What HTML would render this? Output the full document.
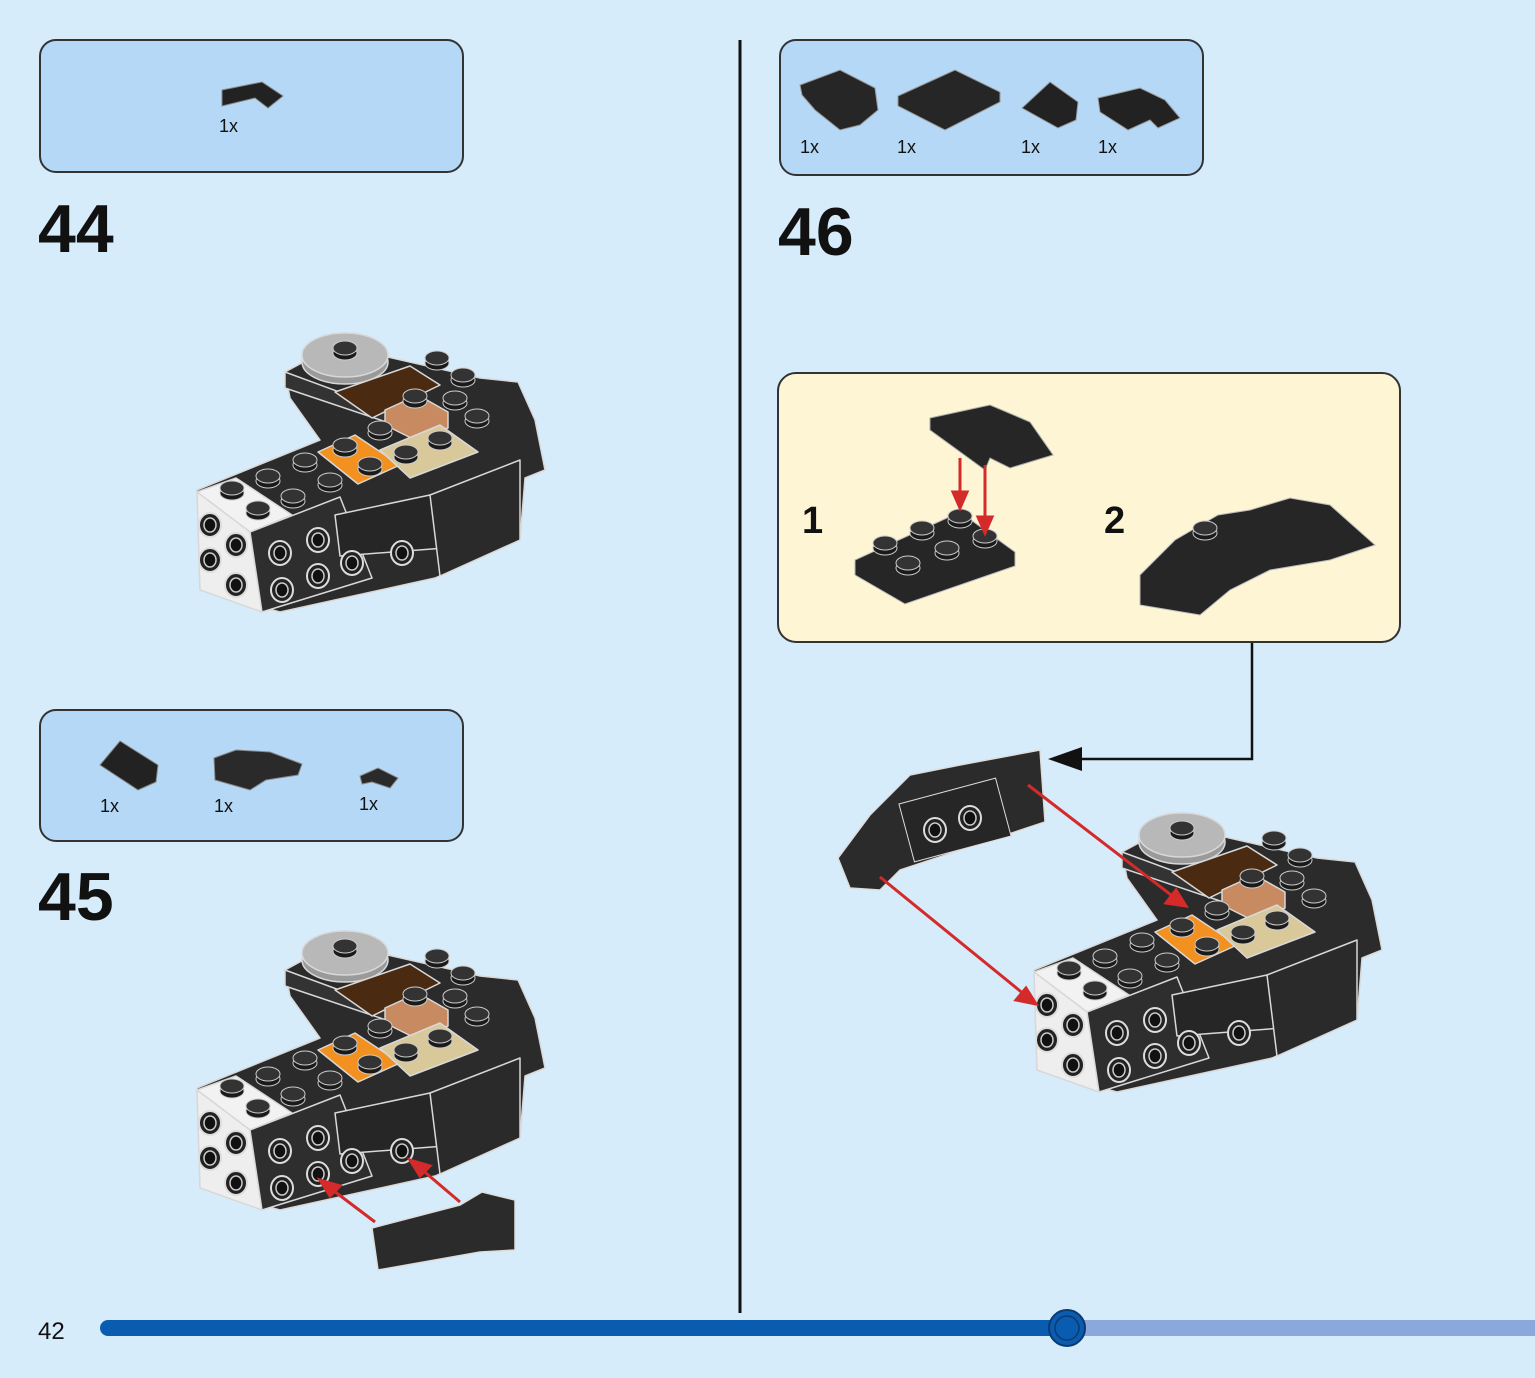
<!DOCTYPE html>
<html><head><meta charset="utf-8"><style>
html,body{margin:0;padding:0;background:#d6ecfb;}
svg{display:block}
text{font-family:"Liberation Sans",sans-serif;fill:#111}
</style></head><body>
<svg width="1535" height="1378" viewBox="0 0 1535 1378" xmlns="http://www.w3.org/2000/svg">
<defs>
<g id="stud"><ellipse cx="0" cy="3" rx="12" ry="7" fill="#1a1a1a" stroke="#ccc" stroke-width="1"/><ellipse cx="0" cy="-2" rx="12" ry="7" fill="#333" stroke="#ccc" stroke-width="1"/></g>
<g id="hole"><ellipse cx="0" cy="0" rx="11" ry="12" fill="#222" stroke="#ddd" stroke-width="2"/><ellipse cx="0" cy="0" rx="6" ry="7" fill="#111" stroke="#ccc" stroke-width="1.5"/></g>
<g id="model" stroke="#d8d8d8" stroke-width="1.5" stroke-linejoin="round">
  <polygon points="285,372 335,345 480,378 518,382 535,420 545,470 525,478 520,540 435,578 280,612 200,590 197,490 320,440 290,398" fill="#2b2b2b"/>
  <polygon points="285,372 410,418 410,430 285,388" fill="#333"/>
  <polygon points="197,492 236,478 292,515 250,532" fill="#f2f2f2"/>
  <polygon points="197,492 250,532 262,612 200,590" fill="#eee"/>
  <polygon points="250,532 340,497 372,578 262,612" fill="#2e2e2e"/>
  <polygon points="335,515 430,495 445,548 340,556" fill="#262626"/>
  <polygon points="430,495 520,460 520,540 440,576" fill="#2a2a2a"/>
  <ellipse cx="345" cy="362" rx="43" ry="22" fill="#9a9a9a"/>
  <ellipse cx="345" cy="355" rx="43" ry="22" fill="#b8b8b8"/>
  <polygon points="335,392 410,366 440,385 372,418" fill="#4a2a10"/>
  <polygon points="385,410 418,395 448,412 448,428 415,440 385,425" fill="#c88a60"/>
  <polygon points="318,452 355,435 400,465 358,484" fill="#f29020"/>
  <polygon points="380,450 440,425 478,452 410,478" fill="#d9c89a"/>
  <use href="#stud" x="345" y="350"/>
  <use href="#stud" x="437" y="360"/><use href="#stud" x="463" y="377"/>
  <use href="#stud" x="415" y="398"/><use href="#stud" x="455" y="400"/><use href="#stud" x="477" y="418"/>
  <use href="#stud" x="380" y="430"/><use href="#stud" x="345" y="447"/><use href="#stud" x="370" y="466"/>
  <use href="#stud" x="406" y="454"/><use href="#stud" x="440" y="440"/>
  <use href="#stud" x="305" y="462"/><use href="#stud" x="330" y="482"/>
  <use href="#stud" x="268" y="478"/><use href="#stud" x="293" y="498"/>
  <use href="#stud" x="232" y="490"/><use href="#stud" x="258" y="510"/>
  <use href="#hole" x="210" y="525"/><use href="#hole" x="236" y="545"/>
  <use href="#hole" x="210" y="560"/><use href="#hole" x="236" y="585"/>
  <use href="#hole" x="280" y="553"/><use href="#hole" x="318" y="540"/>
  <use href="#hole" x="282" y="590"/><use href="#hole" x="318" y="576"/>
  <use href="#hole" x="352" y="563"/><use href="#hole" x="402" y="553"/>
</g>
</defs>

<line x1="740" y1="40" x2="740" y2="1313" stroke="#111" stroke-width="3"/>

<rect x="40" y="40" width="423" height="132" rx="16" fill="#b4d8f5" stroke="#333" stroke-width="2"/>
<polygon points="222,90 262,82 283,96 268,108 255,98 222,106" fill="#222" stroke="#888"/>
<text x="219" y="132" font-size="18">1x</text>
<text x="38" y="252" font-size="68" font-weight="bold">44</text>
<use href="#model"/>

<rect x="40" y="710" width="423" height="131" rx="16" fill="#b4d8f5" stroke="#333" stroke-width="2"/>
<polygon points="100,765 120,741 158,765 156,782 138,790" fill="#222" stroke="#888"/>
<polygon points="214,758 236,750 270,752 302,764 298,775 266,780 250,790 215,780" fill="#2a2a2a" stroke="#888"/>
<polygon points="360,776 378,768 398,778 390,788 372,782 362,784" fill="#2a2a2a" stroke="#888"/>
<text x="100" y="812" font-size="18">1x</text><text x="214" y="812" font-size="18">1x</text><text x="359" y="810" font-size="18">1x</text>
<text x="38" y="920" font-size="68" font-weight="bold">45</text>
<use href="#model" transform="translate(0,598)"/>
<polygon points="372,1228 460,1205 482,1192 515,1200 515,1250 480,1252 378,1270" fill="#2b2b2b" stroke="#ddd" stroke-width="1.5"/>
<g stroke="#d42a2a" stroke-width="3" fill="#d42a2a">
<line x1="375" y1="1222" x2="330" y2="1188"/><polygon points="320,1180 340,1186 330,1196"/>
<line x1="460" y1="1202" x2="420" y2="1168"/><polygon points="410,1160 430,1166 420,1176"/>
</g>

<rect x="780" y="40" width="423" height="135" rx="16" fill="#b4d8f5" stroke="#333" stroke-width="2"/>
<polygon points="800,85 840,70 875,88 878,110 860,125 840,130 815,110 802,95" fill="#262626" stroke="#999"/>
<polygon points="898,96 955,70 1000,92 1000,102 945,130 898,106" fill="#262626" stroke="#999"/>
<polygon points="1022,108 1050,82 1078,102 1076,120 1058,128" fill="#222" stroke="#999"/>
<polygon points="1098,98 1140,88 1165,100 1180,118 1158,128 1150,120 1128,130 1100,112" fill="#222" stroke="#999"/>
<text x="800" y="153" font-size="18">1x</text><text x="897" y="153" font-size="18">1x</text><text x="1021" y="153" font-size="18">1x</text><text x="1098" y="153" font-size="18">1x</text>
<text x="778" y="255" font-size="68" font-weight="bold">46</text>

<rect x="778" y="373" width="622" height="269" rx="18" fill="#fdf5d4" stroke="#333" stroke-width="2"/>
<text x="802" y="533" font-size="38" font-weight="bold">1</text>
<text x="1104" y="533" font-size="38" font-weight="bold">2</text>
<polygon points="930,418 990,405 1030,422 1053,455 1010,468 990,458 985,470 930,430" fill="#262626" stroke="#aaa"/>
<polygon points="855,560 960,512 1015,552 1015,566 905,604 855,575" fill="#262626" stroke="#bbb"/>
<g><use href="#stud" x="885" y="545"/><use href="#stud" x="922" y="530"/><use href="#stud" x="960" y="518"/>
<use href="#stud" x="908" y="565"/><use href="#stud" x="947" y="550"/><use href="#stud" x="985" y="538"/></g>
<g stroke="#d42a2a" stroke-width="3" fill="#d42a2a">
<line x1="960" y1="458" x2="960" y2="495"/><polygon points="953,492 967,492 960,508"/>
<line x1="985" y1="465" x2="985" y2="520"/><polygon points="978,517 992,517 985,533"/>
</g>
<polygon points="1140,575 1175,540 1218,515 1250,510 1290,498 1330,505 1375,545 1330,560 1270,570 1230,590 1200,615 1170,610 1140,605" fill="#262626" stroke="#bbb"/>
<use href="#stud" x="1205" y="530"/>

<polyline points="1252,643 1252,759 1075,759" fill="none" stroke="#111" stroke-width="2.5"/>
<polygon points="1048,759 1082,747 1082,771" fill="#111"/>

<polygon points="838,858 870,815 910,775 960,765 1040,750 1045,822 900,870 880,890 850,888" fill="#2b2b2b" stroke="#ddd" stroke-width="1.5"/>
<rect x="905" y="790" width="100" height="60" fill="#262626" stroke="#ddd" transform="rotate(-15 955 820)"/>
<use href="#hole" x="935" y="830"/><use href="#hole" x="970" y="818"/>
<use href="#model" transform="translate(837,480)"/>
<g stroke="#d42a2a" stroke-width="3" fill="#d42a2a">
<line x1="1028" y1="785" x2="1175" y2="898"/><polygon points="1186,906 1166,903 1176,890"/>
<line x1="880" y1="877" x2="1025" y2="995"/><polygon points="1036,1004 1016,1000 1026,988"/>
</g>

<text x="38" y="1339" font-size="24">42</text>
<line x1="108" y1="1328" x2="1067" y2="1328" stroke="#0a5cb0" stroke-width="16" stroke-linecap="round"/>
<line x1="1067" y1="1328" x2="1535" y2="1328" stroke="#8aa8dc" stroke-width="16"/>
<circle cx="1067" cy="1328" r="18" fill="#0a5cb0" stroke="#0a3a70" stroke-width="2"/>
<circle cx="1067" cy="1328" r="12" fill="none" stroke="#0a3a70" stroke-width="1.5"/>
</svg>
</body></html>
